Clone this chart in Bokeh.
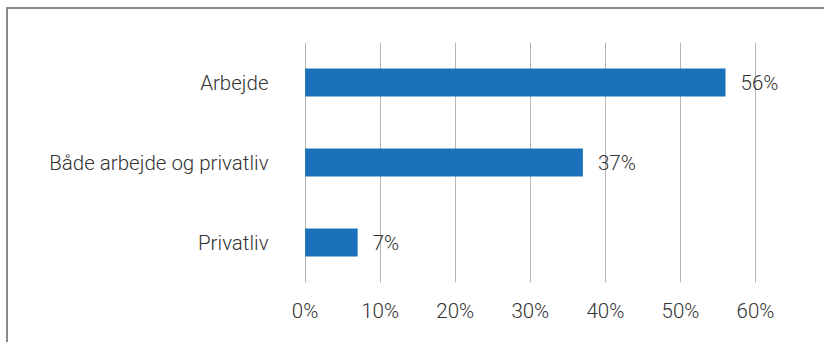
from bokeh.plotting import figure
from bokeh.models import FactorRange, Range1d, FixedTicker, PrintfTickFormatter, ColumnDataSource
from bokeh.core.properties import value
from bokeh.embed import file_html
from bokeh.resources import INLINE

categories = ["Arbejde", "Både arbejde og privatliv", "Privatliv"]
shares = [56, 37, 7]
labels = ["56%", "37%", "7%"]
x_ticks = [0, 10, 20, 30, 40, 50, 60]

FONT = "Roboto Light"
TEXT = "#333333"
BAR = "#1a73ba"
EDGE = "#8a8a8a"

src = ColumnDataSource(dict(cat=categories, share=shares, label=labels))

p = figure(
    width=824, height=342,
    frame_width=488, frame_height=240,
    min_border_left=304, min_border_top=42, min_border_bottom=60, min_border_right=32,
    y_range=FactorRange(factors=categories[::-1]),
    x_range=Range1d(-0.08, 64.92),
    output_backend="svg", toolbar_location=None,
)

p.hbar(y="cat", right="share", left=0, height=0.35, source=src,
       fill_color=BAR, line_color=None)
p.text(x="share", y="cat", text="label", source=src,
       x_offset=15, text_align="left", text_baseline="middle",
       text_font=value(FONT), text_font_size="20.5px", text_color=TEXT)

# vertical grid lines only
p.ygrid.grid_line_color = None
p.xgrid.ticker = FixedTicker(ticks=x_ticks)
p.xgrid.grid_line_color = "#b5b5b5"
p.xgrid.grid_line_width = 1

p.xaxis.ticker = FixedTicker(ticks=x_ticks)
p.xaxis.formatter = PrintfTickFormatter(format="%d%%")
for ax in (p.xaxis, p.yaxis):
    ax.axis_line_color = None
    ax.major_tick_line_color = None
    ax.minor_tick_line_color = None
    ax.major_label_text_font = FONT
    ax.major_label_text_font_size = "20.5px"
    ax.major_label_text_color = TEXT
p.xaxis.major_label_standoff = 10
p.yaxis.major_label_standoff = 30

p.outline_line_color = None
p.border_fill_color = None
p.background_fill_color = None

# thin frame lines along the top and left of the chart box
p.styles = {
    "background-color": "white",
    "background-image": f"linear-gradient({EDGE}, {EDGE}), linear-gradient({EDGE}, {EDGE})",
    "background-position": "6px 7px, 6px 7px",
    "background-size": "2px 100%, 100% 2px",
    "background-repeat": "no-repeat",
}

open("out.html", "w").write(file_html(p, INLINE))
